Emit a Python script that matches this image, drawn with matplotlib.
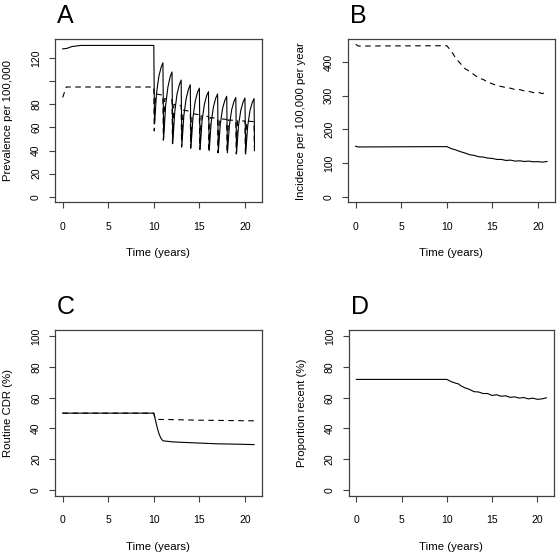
import matplotlib
matplotlib.use("Agg")
from matplotlib import pyplot as plt

plt.rcParams['font.family'] = ['Liberation Sans', 'DejaVu Sans']

# --- panel A: prevalence per 100,000 ---
a_solid_t = [0, 0.5, 1, 1.5, 2, 3, 10,
             10.08, 10.3, 10.55, 10.8, 11,
             11.08, 11.3, 11.55, 11.8, 12,
             12.08, 12.3, 12.55, 12.8, 13,
             13.08, 13.3, 13.55, 13.8, 14,
             14.08, 14.3, 14.55, 14.8, 15,
             15.08, 15.3, 15.55, 15.8, 16,
             16.08, 16.3, 16.55, 16.8, 17,
             17.08, 17.3, 17.55, 17.8, 18,
             18.08, 18.3, 18.55, 18.8, 19,
             19.08, 19.3, 19.55, 19.8, 20,
             20.08, 20.3, 20.55, 20.8, 21, 21.05]
a_solid_v = [128, 128.5, 130, 130.5, 131, 131, 131,
             63, 89.5, 104, 112, 116,
             50, 79, 95, 104, 108,
             46, 73.5, 89, 97, 101,
             44, 70.5, 85, 93, 97,
             43, 68.5, 83, 90.5, 94,
             41, 66, 80, 87.5, 91,
             40, 64.5, 78, 85.5, 89,
             39, 63, 76.5, 83.5, 87,
             38, 62, 75.5, 82.5, 86,
             38, 62, 75, 82, 85.5,
             37, 61, 74.5, 81.5, 85, 44]

a_dash_t = [0, 0.4, 10, 10.05, 10.2,
            11, 11.05, 11.2, 12, 12.05, 12.2, 13, 13.05, 13.2,
            14, 14.05, 14.2, 15, 15.05, 15.2, 16, 16.05, 16.2,
            17, 17.05, 17.2, 18, 18.05, 18.2, 19, 19.05, 19.2,
            20, 20.05, 20.2, 21, 21.05]
a_dash_v = [86, 95, 95, 57, 89,
            88, 49, 85, 84, 46, 80, 79, 43, 75,
            74, 42, 72, 71, 41, 70, 69.5, 39, 68.5,
            68, 38, 67.5, 67, 38, 66.5, 66, 37, 66,
            65.5, 37, 65.5, 65, 36]

# --- panel B: incidence per 100,000 per year ---
b_t = [0, 0.3, 10, 10.5, 11, 11.5, 12, 12.5, 13, 13.5, 14, 14.5, 15, 15.5,
       16, 16.5, 17, 17.5, 18, 18.5, 19, 19.5, 20, 20.5, 21]
b_dash_v = [452, 447, 448, 432, 410, 395, 380, 372, 362, 352, 348, 340, 335, 330,
            327, 324, 322, 318, 318, 314, 313, 309, 310, 306, 314]
b_solid_v = [150, 148, 149, 143, 139, 134, 130, 125, 123, 119, 118, 115, 114, 111,
             111, 108, 109, 106, 107, 105, 106, 104, 104.5, 103, 105]

# --- panel C: routine CDR (%) ---
c_solid_t = [0, 10, 10.1, 10.2, 10.4, 10.6, 10.8, 11, 12, 13, 15, 17, 19, 21]
c_solid_v = [50, 50, 47.5, 45, 40, 36, 33.5, 32, 31.3, 31, 30.5, 30, 29.8, 29.5]
c_dash_t = [0, 10, 10.1, 10.2, 10.5, 12, 15, 18, 21]
c_dash_v = [50, 50, 47.5, 46.2, 45.9, 45.8, 45.4, 45.2, 45]

# --- panel D: proportion recent (%) ---
d_t = [0, 10, 10.5, 11, 11.3, 11.5, 12, 12.5, 13, 13.5, 14, 14.5, 15, 15.5,
       16, 16.5, 17, 17.5, 18, 18.5, 19, 19.5, 20, 20.5, 21]
d_v = [72, 72, 70.5, 69.5, 69, 68, 66.5, 65.5, 64, 63.8, 62.8, 62.8, 61.5, 62,
       61, 61.3, 60.3, 60.6, 59.8, 60.2, 59.3, 59.8, 59, 59.3, 60]

x_ticks = [0, 5, 10, 15, 20]

W, H = 558, 554
fig = plt.figure(figsize=(W / 100, H / 100), dpi=100)

dash = (0, (5, 4))
lw = 0.8
box_col = '#404040'


def make_axes(left, top, right, bottom):
    ax = fig.add_axes([left / W, 1 - bottom / H, (right - left) / W, (bottom - top) / H])
    for s in ax.spines.values():
        s.set_color(box_col)
        s.set_linewidth(0.9)
    ax.set_xlim(-0.84, 21.84)
    ax.set_xticks(x_ticks)
    ax.tick_params(axis='both', direction='out', length=4, width=0.8, color=box_col, labelsize=7.5)
    ax.tick_params(axis='x', pad=10)
    ax.tick_params(axis='y', pad=6, labelrotation=90)
    for lab in ax.get_yticklabels():
        lab.set_va('center')
    return ax


def decorate(ax, letter, ylabel):
    ax.set_xlabel('Time (years)', fontsize=8.2, va='center')
    ax.xaxis.set_label_coords(0.5, -50.7 / ax.bbox.height * fig.dpi / 100)
    ax.set_ylabel(ylabel, fontsize=8.2, va='center')
    ax.yaxis.set_label_coords(-46.5 / ax.bbox.width * fig.dpi / 100, 0.5)
    ax.text(0.01, 1.1, letter, transform=ax.transAxes, fontsize=18, ha='left', va='baseline')


# A
ax = make_axes(55, 39.3, 261.7, 202.3)
ax.plot(a_solid_t, a_solid_v, color='black', lw=lw)
ax.plot(a_dash_t, a_dash_v, color='black', lw=lw, linestyle=dash)
ax.set_ylim(-4.8, 136.3)
ax.set_yticks([0, 20, 40, 60, 80, 100, 120])
ax.set_yticklabels(['0', '20', '40', '60', '80', '', '120'])
for lab in ax.get_yticklabels():
    lab.set_va('center')
decorate(ax, 'A', 'Prevalence per 100,000')

# B
ax = make_axes(348, 39.3, 554.7, 202.3)
ax.plot(b_t, b_solid_v, color='black', lw=lw)
ax.plot(b_t, b_dash_v, color='black', lw=lw, linestyle=dash)
ax.set_ylim(-16, 467)
ax.set_yticks([0, 100, 200, 300, 400])
for lab in ax.get_yticklabels():
    lab.set_va('center')
decorate(ax, 'B', 'Incidence per 100,000 per year')

# C
ax = make_axes(55, 330.3, 261.7, 496)
ax.plot(c_solid_t, c_solid_v, color='black', lw=lw)
ax.plot(c_dash_t, c_dash_v, color='black', lw=lw, linestyle=dash)
ax.set_ylim(-4, 104)
ax.set_yticks([0, 20, 40, 60, 80, 100])
for lab in ax.get_yticklabels():
    lab.set_va('center')
decorate(ax, 'C', 'Routine CDR (%)')

# D
ax = make_axes(348.7, 330.3, 554, 496)
ax.plot(d_t, d_v, color='black', lw=lw)
ax.set_ylim(-4, 104)
ax.set_yticks([0, 20, 40, 60, 80, 100])
for lab in ax.get_yticklabels():
    lab.set_va('center')
decorate(ax, 'D', 'Proportion recent (%)')

fig.savefig('out.png', dpi=100)
